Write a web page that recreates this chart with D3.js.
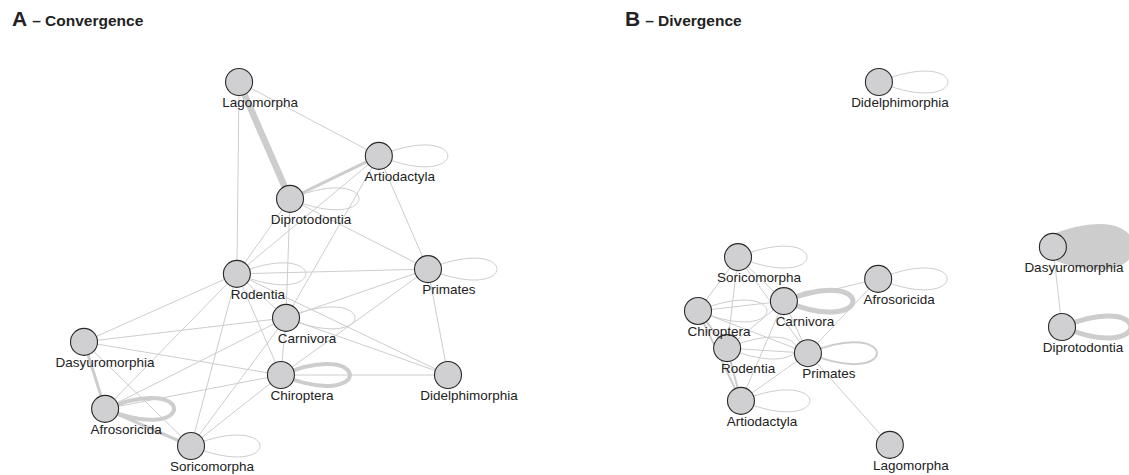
<!DOCTYPE html>
<html>
<head>
<meta charset="utf-8">
<script src="https://cdn.jsdelivr.net/npm/d3@7"></script>
<style>
  body { margin: 0; background: #fff; }
  svg { font-family: Arial, "Liberation Sans", Helvetica, sans-serif; }
</style>
</head>
<body>
<div id="chart"></div>
<script>
// orders (nodes) and their layout coordinates, 0..1 within each panel
var orders = ['Lagomorpha','Artiodactyla','Diprotodontia','Rodentia','Carnivora','Primates',
              'Chiroptera','Didelphimorphia','Dasyuromorphia','Afrosoricida','Soricomorpha'];

var convX = [0.426, 0.810, 0.566, 0.420, 0.555, 0.945, 0.541, 1.000, 0.000, 0.058, 0.294];
var convY = [0.000, 0.203, 0.321, 0.527, 0.648, 0.514, 0.805, 0.805, 0.714, 0.898, 1.000];

var divX = [0.527, 0.118, 1.000, 0.080, 0.236, 0.302, 0.000, 0.497, 0.975, 0.495, 0.110];
var divY = [0.997, 0.876, 0.673, 0.731, 0.602, 0.745, 0.629, 0.000, 0.453, 0.541, 0.481];

// edges: [source, target, weight]
var convEdges = [
  ['Lagomorpha','Diprotodontia',6.5],
  ['Lagomorpha','Artiodactyla',1],
  ['Lagomorpha','Rodentia',1],
  ['Artiodactyla','Diprotodontia',3],
  ['Artiodactyla','Rodentia',1],
  ['Artiodactyla','Carnivora',1],
  ['Artiodactyla','Primates',1],
  ['Diprotodontia','Rodentia',1],
  ['Diprotodontia','Carnivora',1],
  ['Diprotodontia','Primates',1],
  ['Rodentia','Primates',1],
  ['Rodentia','Carnivora',1],
  ['Rodentia','Chiroptera',1],
  ['Rodentia','Didelphimorphia',1],
  ['Rodentia','Dasyuromorphia',1],
  ['Rodentia','Afrosoricida',1],
  ['Rodentia','Soricomorpha',1],
  ['Carnivora','Primates',1],
  ['Carnivora','Didelphimorphia',1],
  ['Carnivora','Chiroptera',1],
  ['Carnivora','Dasyuromorphia',1],
  ['Carnivora','Afrosoricida',1],
  ['Carnivora','Soricomorpha',1],
  ['Primates','Didelphimorphia',1],
  ['Primates','Chiroptera',1],
  ['Chiroptera','Didelphimorphia',1],
  ['Chiroptera','Dasyuromorphia',1],
  ['Chiroptera','Afrosoricida',1],
  ['Chiroptera','Soricomorpha',1],
  ['Dasyuromorphia','Afrosoricida',3],
  ['Dasyuromorphia','Soricomorpha',1],
  ['Afrosoricida','Soricomorpha',3]
];
var convLoops = [['Artiodactyla',1],['Diprotodontia',1],['Rodentia',1],['Carnivora',1],
                 ['Primates',1],['Chiroptera',4],['Afrosoricida',4],['Soricomorpha',1]];

var divEdges = [
  ['Soricomorpha','Chiroptera',1],
  ['Soricomorpha','Rodentia',1],
  ['Soricomorpha','Carnivora',1],
  ['Soricomorpha','Primates',1],
  ['Carnivora','Afrosoricida',1],
  ['Carnivora','Primates',1],
  ['Carnivora','Chiroptera',1],
  ['Carnivora','Rodentia',1],
  ['Carnivora','Artiodactyla',1],
  ['Afrosoricida','Primates',1],
  ['Chiroptera','Rodentia',2],
  ['Chiroptera','Primates',1],
  ['Chiroptera','Artiodactyla',2],
  ['Rodentia','Primates',1],
  ['Rodentia','Artiodactyla',2],
  ['Primates','Artiodactyla',1],
  ['Primates','Lagomorpha',1],
  ['Dasyuromorphia','Diprotodontia',1]
];
var divLoops = [['Soricomorpha',1],['Carnivora',5],['Afrosoricida',1],['Chiroptera',1],
                ['Rodentia',1],['Primates',2],['Artiodactyla',1],['Didelphimorphia',1],
                ['Dasyuromorphia',24],['Diprotodontia',5]];

var W = 1129, H = 475;
var svg = d3.select('#chart').append('svg')
  .attr('width', W)
  .attr('height', H);

var widthScale = d3.scaleLinear().domain([1, 24]).range([1, 24]);
var edgeColor = '#cdcdcd';
var r = 13.5;

function drawPanel(letter, title, xs, ys, edges, loops, xRange, titleX) {
  var x = d3.scaleLinear().domain([0, 1]).range(xRange);
  var y = d3.scaleLinear().domain([0, 1]).range([82, 446]);
  var pos = {};
  orders.forEach(function(o, i) { pos[o] = [x(xs[i]), y(ys[i])]; });

  var g = svg.append('g');

  // title
  var t = g.append('text')
    .attr('x', titleX)
    .attr('y', 26)
    .attr('fill', '#222')
    .attr('font-weight', 'bold');
  t.append('tspan').attr('font-size', 21).text(letter);
  t.append('tspan').attr('font-size', 15.5).attr('dx', 5).text('\u2013 ' + title);

  // plain edges
  g.selectAll('line.edge')
    .data(edges)
    .enter().append('line')
      .classed('edge', true)
      .attr('x1', function(d) { return pos[d[0]][0]; })
      .attr('y1', function(d) { return pos[d[0]][1]; })
      .attr('x2', function(d) { return pos[d[1]][0]; })
      .attr('y2', function(d) { return pos[d[1]][1]; })
      .attr('stroke', edgeColor)
      .attr('stroke-width', function(d) { return widthScale(d[2]); });

  // self loops, teardrop to the right of the node
  var L = 92, h = 38;
  g.selectAll('path.loop')
    .data(loops)
    .enter().append('path')
      .classed('loop', true)
      .attr('d', function(d) {
        var p = pos[d[0]];
        var path = d3.path();
        path.moveTo(p[0], p[1]);
        path.bezierCurveTo(p[0] + L, p[1] - h, p[0] + L, p[1] + h, p[0], p[1]);
        return path.toString();
      })
      .attr('fill', 'none')
      .attr('stroke', edgeColor)
      .attr('stroke-width', function(d) { return widthScale(d[1]); });

  // nodes
  g.selectAll('circle.node')
    .data(orders)
    .enter().append('circle')
      .classed('node', true)
      .attr('cx', function(d) { return pos[d][0]; })
      .attr('cy', function(d) { return pos[d][1]; })
      .attr('r', r)
      .attr('fill', '#d0d0d2')
      .attr('stroke', '#2a2a2a')
      .attr('stroke-width', 1.1);

  // labels
  g.selectAll('text.label')
    .data(orders)
    .enter().append('text')
      .classed('label', true)
      .attr('x', function(d) { return pos[d][0] + 21; })
      .attr('y', function(d) { return pos[d][1] + 25; })
      .attr('text-anchor', 'middle')
      .attr('font-size', 13.5)
      .attr('fill', '#222')
      .text(function(d) { return d; });
}

drawPanel('A', 'Convergence', convX, convY, convEdges, convLoops, [84, 448], 12);
drawPanel('B', 'Divergence', divX, divY, divEdges, divLoops, [698, 1062], 625);
</script>
</body>
</html>
